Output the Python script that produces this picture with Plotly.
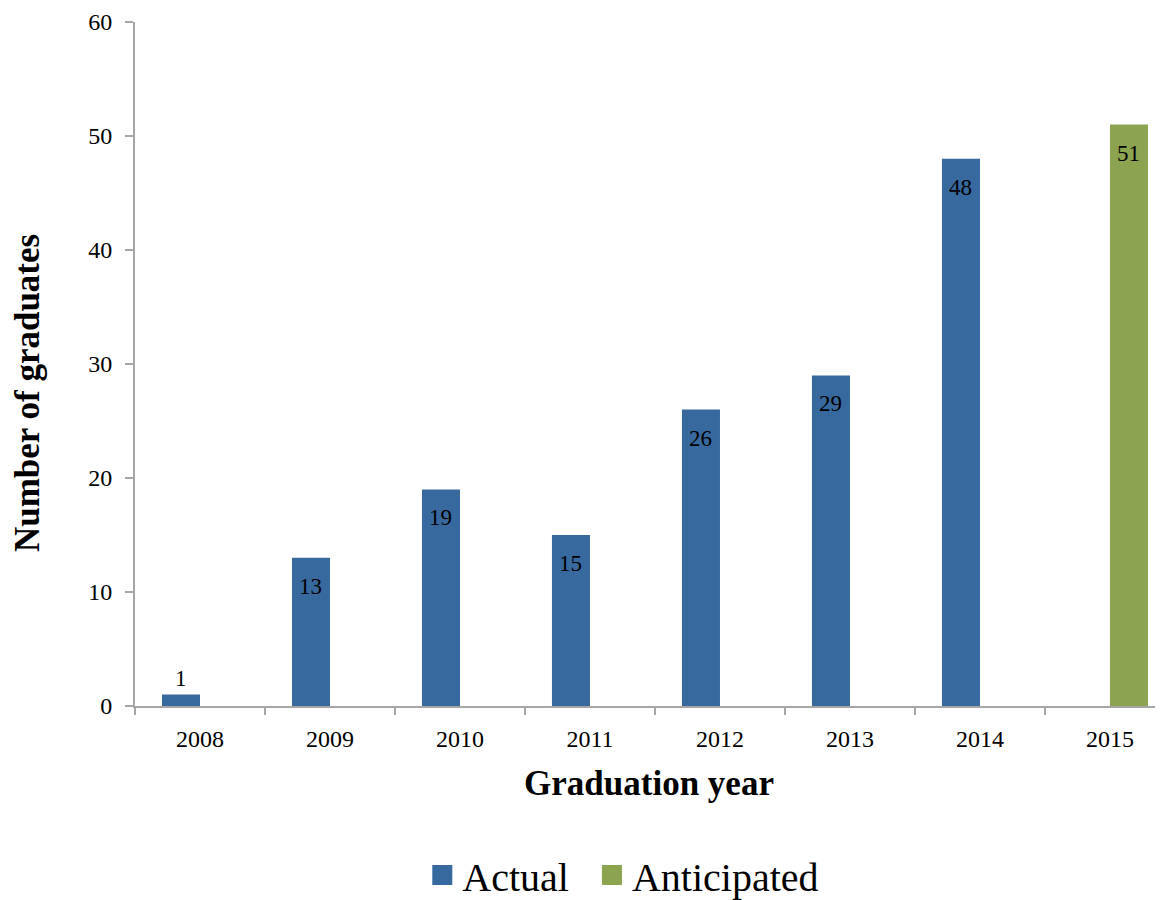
import plotly.graph_objects as go

years = ["2008", "2009", "2010", "2011", "2012", "2013", "2014", "2015"]
actual = [1, 13, 19, 15, 26, 29, 48, None]
anticipated = [None, None, None, None, None, None, None, 51]

FONT = "Liberation Serif, Times New Roman, Times, serif"
BLUE = "#37699f"
GREEN = "#8ca350"
AXIS = "#a6a6a6"
BARGAP = 0.415
Y_MAX = 60

fig = go.Figure()
fig.add_trace(go.Bar(x=years, y=actual, name="Actual", marker=dict(color=BLUE, line=dict(width=0)),
                     showlegend=False, legendgroup="a"))
fig.add_trace(go.Bar(x=years, y=anticipated, name="Anticipated", marker=dict(color=GREEN, line=dict(width=0)),
                     showlegend=False, legendgroup="b"))
# legend entries with larger square swatches
fig.add_trace(go.Scatter(x=[None], y=[None], mode="markers", name="Actual\u00a0\u2009", legendgroup="a",
                         marker=dict(symbol="square", size=16, color=BLUE, line=dict(color=BLUE, width=4))))
fig.add_trace(go.Scatter(x=[None], y=[None], mode="markers", name="Anticipated", legendgroup="b",
                         marker=dict(symbol="square", size=16, color=GREEN, line=dict(color=GREEN, width=4))))

# data labels: inside near the top of each bar, above when the bar is too short
bar_w = (1 - BARGAP) / 2
plot_h_px = 684
annotations = []
for series, offset in ((actual, -bar_w / 2), (anticipated, bar_w / 2)):
    for i, v in enumerate(series):
        if v is None:
            continue
        inside = v * plot_h_px / Y_MAX > 40
        annotations.append(dict(
            x=i + offset, y=v, xref="x", yref="y", text=str(v), showarrow=False,
            yanchor="top" if inside else "bottom", yshift=-14 if inside else 2,
            font=dict(family=FONT, size=23, color="black"),
        ))

# y-axis title (placed slightly below the plot's mid-height, as in the original)
annotations.append(dict(
    text="<b>Number of graduates</b>", textangle=-90, showarrow=False,
    xref="paper", yref="paper", x=-0.105, y=0.4576, xanchor="center", yanchor="middle",
    font=dict(family=FONT, size=35, color="black"),
))

fig.update_layout(
    width=1155, height=910,
    margin=dict(l=127, r=0, t=14, b=212),
    paper_bgcolor="white", plot_bgcolor="white",
    font=dict(family=FONT, size=24, color="black"),
    barmode="group", bargap=BARGAP, bargroupgap=0,
    annotations=annotations,
    legend=dict(orientation="h", x=0.475, xanchor="center", y=-0.247, yanchor="middle",
                font=dict(family=FONT, size=40, color="black"), itemsizing="trace"),
    xaxis=dict(
        type="category", range=[-0.5, 7.408], showgrid=False, zeroline=False,
        showline=True, linecolor=AXIS, linewidth=2, automargin=False,
        ticks="outside", tickson="boundaries", ticklen=7, tickwidth=2, tickcolor=AXIS,
        tickfont=dict(family=FONT, size=24, color="black"), ticklabelstandoff=10,
        title=dict(text="<b>Graduation year</b>", font=dict(family=FONT, size=35, color="black"), standoff=20),
    ),
    yaxis=dict(
        range=[0, Y_MAX], dtick=10, showgrid=False, zeroline=False,
        showline=True, linecolor=AXIS, linewidth=2, automargin=False,
        ticks="outside", ticklen=8, tickwidth=2, tickcolor=AXIS,
        tickfont=dict(family=FONT, size=24, color="black"), ticklabelstandoff=8,
        ticklabeloverflow="allow",
    ),
)

fig.write_html("out.html")
